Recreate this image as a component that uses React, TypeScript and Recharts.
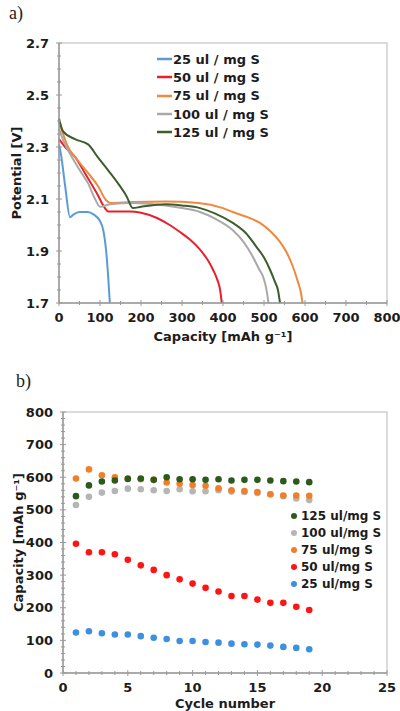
import React from 'react';
import {
  LineChart, Line, ScatterChart, Scatter, XAxis, YAxis, ReferenceArea,
} from 'recharts';

// ---------- Chart a) discharge profiles ----------
const cap25 = [0, 5, 15, 27, 35, 50, 70, 85, 98, 108, 115, 120, 124];
const pot25 = [2.31, 2.27, 2.15, 2.03, 2.04, 2.05, 2.05, 2.04, 2.02, 1.98, 1.9, 1.8, 1.7];
const cap50 = [0, 15, 40, 63, 93, 112, 120, 173, 200, 239, 270, 295, 320, 344, 362, 376, 386, 393, 397];
const pot50 = [2.33, 2.3, 2.26, 2.2, 2.12, 2.065, 2.052, 2.052, 2.047, 2.027, 2.0, 1.973, 1.943, 1.905, 1.867, 1.827, 1.79, 1.75, 1.7];
const cap75 = [0, 10, 22, 45, 71, 95, 115, 125, 180, 260, 340, 400, 424, 460, 490, 515, 539, 555, 568, 583, 590, 594];
const pot75 = [2.4, 2.35, 2.3, 2.25, 2.2, 2.15, 2.095, 2.085, 2.088, 2.09, 2.085, 2.065, 2.05, 2.03, 2.008, 1.977, 1.935, 1.895, 1.85, 1.78, 1.74, 1.7];
const cap100 = [0, 12, 32, 55, 71, 88, 100, 124, 180, 260, 300, 344, 380, 424, 450, 473, 488, 498, 505, 511];
const pot100 = [2.37, 2.32, 2.26, 2.2, 2.16, 2.1, 2.07, 2.08, 2.085, 2.075, 2.065, 2.05, 2.025, 1.98, 1.935, 1.877, 1.83, 1.8, 1.76, 1.7];
const cap125 = [0, 10, 39, 71, 95, 120, 144, 165, 180, 200, 260, 300, 344, 380, 424, 455, 482, 500, 515, 527, 534, 539];
const pot125 = [2.41, 2.36, 2.33, 2.31, 2.26, 2.21, 2.16, 2.11, 2.065, 2.07, 2.08, 2.075, 2.065, 2.045, 2.008, 1.97, 1.915, 1.875, 1.827, 1.78, 1.75, 1.7];

const profileNames = ['25 ul / mg S', '50 ul / mg S', '75 ul / mg S', '100 ul / mg S', '125 ul / mg S'];
const profileColors = ['#5b9bd5', '#e8202a', '#f0883e', '#a9a9a9', '#3b5e2b'];

const capTicksMajor = [0, 100, 200, 300, 400, 500, 600, 700, 800];
const potTicksMajor = [1.7, 1.9, 2.1, 2.3, 2.5, 2.7];

// ---------- Chart b) cycling ----------
const cycles = [1, 2, 3, 4, 5, 6, 7, 8, 9, 10, 11, 12, 13, 14, 15, 16, 17, 18, 19];
const cyc125 = [542, 575, 587, 590, 595, 596, 592, 600, 594, 594, 592, 594, 590, 592, 592, 590, 588, 587, 585];
const cyc100 = [515, 540, 553, 558, 565, 563, 560, 558, 563, 557, 557, 560, 556, 555, 552, 548, 542, 535, 530];
const cyc75 = [596, 624, 606, 600, 596, 594, 592, 584, 580, 576, 574, 566, 560, 558, 555, 548, 544, 544, 543];
const cyc50 = [396, 370, 370, 364, 347, 330, 316, 300, 287, 274, 261, 250, 236, 236, 225, 215, 215, 203, 193];
const cyc25 = [124, 128, 122, 118, 118, 113, 108, 104, 98, 98, 95, 93, 90, 88, 87, 84, 80, 77, 73];

const cycleNames = ['125 ul/mg S', '100 ul/mg S', '75 ul/mg S', '50 ul/mg S', '25 ul/mg S'];
const cycleColors = ['#2c5a1c', '#b5b5b5', '#f07f2a', '#ff1414', '#3d8fe0'];

const cycleTicksMajor = [0, 5, 10, 15, 20, 25];
const capBTicksMajor = [0, 100, 200, 300, 400, 500, 600, 700, 800];

// ---------- helpers ----------
const FONT = '"DejaVu Sans", Verdana, sans-serif';
const TEXT = '#1c1c1c';

const range = (start: number, end: number, step: number) => {
  const out: number[] = [];
  const n = Math.round((end - start) / step);
  for (let i = 0; i <= n; i++) out.push(+(start + i * step).toFixed(4));
  return out;
};

const isMajor = (v: number, majors: number[]) => majors.some((m) => Math.abs(m - v) < 1e-6);

const makeYTick = (majors: number[], fmt: (v: number) => string) => (props: any) => {
  const { x, y, payload } = props;
  const major = isMajor(payload.value, majors);
  return (
    <g>
      <line x1={x - (major ? 3 : 2)} x2={x + (major ? 3 : 2)} y1={y} y2={y} stroke="#9a9a9a" strokeWidth={1} />
      {major && (
        <text x={x - 10} y={y} dy={4.5} textAnchor="end" fontFamily={FONT} fontWeight="bold" fontSize={13} fill={TEXT}>
          {fmt(payload.value)}
        </text>
      )}
    </g>
  );
};

const makeXTick = (majors: number[]) => (props: any) => {
  const { x, y, payload } = props;
  const major = isMajor(payload.value, majors);
  return (
    <g>
      <line x1={x} x2={x} y1={y - (major ? 3 : 2)} y2={y + (major ? 3 : 2)} stroke="#9a9a9a" strokeWidth={1} />
      {major && (
        <text x={x} y={y + 19} textAnchor="middle" fontFamily={FONT} fontWeight="bold" fontSize={13} fill={TEXT}>
          {payload.value}
        </text>
      )}
    </g>
  );
};

const profileData = [
  cap25.map((c, i) => ({ cap: c, v: pot25[i] })),
  cap50.map((c, i) => ({ cap: c, v: pot50[i] })),
  cap75.map((c, i) => ({ cap: c, v: pot75[i] })),
  cap100.map((c, i) => ({ cap: c, v: pot100[i] })),
  cap125.map((c, i) => ({ cap: c, v: pot125[i] })),
];

const cycleSeries = [cyc125, cyc100, cyc75, cyc50, cyc25].map((arr) =>
  cycles.map((c, i) => ({ cycle: c, cap: arr[i] })),
);

const ProfileLegend = () => (
  <div style={{ fontFamily: FONT, fontWeight: 'bold', fontSize: 13, color: TEXT }}>
    {profileNames.map((n, i) => (
      <div key={n} style={{ display: 'flex', alignItems: 'center', height: 18.3, whiteSpace: 'nowrap' }}>
        <svg width={15} height={4} style={{ marginRight: 1 }}>
          <line x1={0} x2={15} y1={2} y2={2} stroke={profileColors[i]} strokeWidth={2.5} />
        </svg>
        <span>{n}</span>
      </div>
    ))}
  </div>
);

const CycleLegend = () => (
  <div style={{ fontFamily: FONT, fontWeight: 'bold', fontSize: 12, color: TEXT }}>
    {cycleNames.map((n, i) => (
      <div key={n} style={{ display: 'flex', alignItems: 'center', height: 17, whiteSpace: 'nowrap' }}>
        <svg width={9} height={8} style={{ marginRight: 2 }}>
          <circle cx={4} cy={4} r={3} fill={cycleColors[i]} />
        </svg>
        <span>{n}</span>
      </div>
    ))}
  </div>
);

const Dot = (props: any) => {
  const { cx, cy, fill } = props;
  return <circle cx={cx} cy={cy} r={3.3} fill={fill} />;
};

const axisLabelStyle = { fontFamily: FONT, fontWeight: 'bold', fontSize: 13, fill: TEXT, textAnchor: 'middle' } as any;

export default function App() {
  const potTicks = range(1.7, 2.7, 0.05);
  const capTicks = range(0, 800, 50);
  const capBTicks = range(0, 800, 20);
  const cycTicks = range(0, 25, 1);
  return (
    <div style={{ position: 'absolute', left: 0, top: 0, width: 400, height: 711, background: '#fff' }}>
      <div style={{ position: 'absolute', left: 0, top: 0 }}>
        <LineChart width={400} height={345} margin={{ top: 43, right: 13, bottom: 6, left: 14 }}>
          <ReferenceArea x1={0} x2={800} y1={1.7} y2={2.7} fill="none" stroke="#cfcfcf" strokeWidth={1.5} ifOverflow="visible" />
          <XAxis
            type="number"
            dataKey="cap"
            domain={[0, 800]}
            ticks={capTicks}
            interval={0}
            height={36}
            tickSize={0}
            tickMargin={0}
            tick={makeXTick(capTicksMajor)}
            axisLine={{ stroke: '#9a9a9a', strokeWidth: 1.5 }}
            tickLine={false}
            label={{ value: 'Capacity [mAh g⁻¹]', position: 'insideBottom', offset: -2, style: axisLabelStyle }}
          />
          <YAxis
            type="number"
            dataKey="v"
            domain={[1.7, 2.7]}
            ticks={potTicks}
            interval={0}
            width={45}
            tickSize={0}
            tickMargin={0}
            tick={makeYTick(potTicksMajor, (v) => v.toFixed(1))}
            axisLine={{ stroke: '#9a9a9a', strokeWidth: 1.5 }}
            tickLine={false}
            label={{ value: 'Potential [V]', angle: -90, position: 'insideLeft', offset: 2, style: axisLabelStyle }}
          />
          {profileData.map((d, i) => (
            <Line
              key={profileNames[i]}
              data={d}
              dataKey="v"
              name={profileNames[i]}
              type="monotone"
              stroke={profileColors[i]}
              strokeWidth={2}
              dot={false}
              isAnimationActive={false}
            />
          ))}
        </LineChart>
      </div>

      <div style={{ position: 'absolute', left: 0, top: 360 }}>
        <ScatterChart width={400} height={351} margin={{ top: 52, right: 13, bottom: 4, left: 18 }}>
          <ReferenceArea x1={0} x2={25} y1={0} y2={800} fill="none" stroke="#cfcfcf" strokeWidth={1.5} ifOverflow="visible" />
          <XAxis
            type="number"
            dataKey="cycle"
            domain={[0, 25]}
            ticks={cycTicks}
            interval={0}
            height={34}
            tickSize={0}
            tickMargin={0}
            tick={makeXTick(cycleTicksMajor)}
            axisLine={{ stroke: '#9a9a9a', strokeWidth: 1.5 }}
            tickLine={false}
            label={{ value: 'Cycle number', position: 'insideBottom', offset: -1, style: axisLabelStyle }}
          />
          <YAxis
            type="number"
            dataKey="cap"
            domain={[0, 800]}
            ticks={capBTicks}
            interval={0}
            width={45}
            tickSize={0}
            tickMargin={0}
            tick={makeYTick(capBTicksMajor, (v) => String(v))}
            axisLine={{ stroke: '#9a9a9a', strokeWidth: 1.5 }}
            tickLine={false}
            label={{ value: 'Capacity [mAh g⁻¹]', angle: -90, position: 'insideLeft', offset: 0, style: axisLabelStyle }}
          />
          {[4, 3, 1, 2, 0].map((i) => (
            <Scatter
              key={cycleNames[i]}
              name={cycleNames[i]}
              data={cycleSeries[i]}
              fill={cycleColors[i]}
              shape={<Dot />}
              isAnimationActive={false}
            />
          ))}
        </ScatterChart>
      </div>

      <div style={{ position: 'absolute', left: 157, top: 50 }}><ProfileLegend /></div>
      <div style={{ position: 'absolute', left: 290, top: 507 }}><CycleLegend /></div>

      <div style={{ position: 'absolute', left: 9, top: 3, fontFamily: '"Liberation Serif", serif', fontSize: 18, color: TEXT }}>a)</div>
      <div style={{ position: 'absolute', left: 16, top: 371, fontFamily: '"Liberation Serif", serif', fontSize: 18, color: TEXT }}>b)</div>
    </div>
  );
}
